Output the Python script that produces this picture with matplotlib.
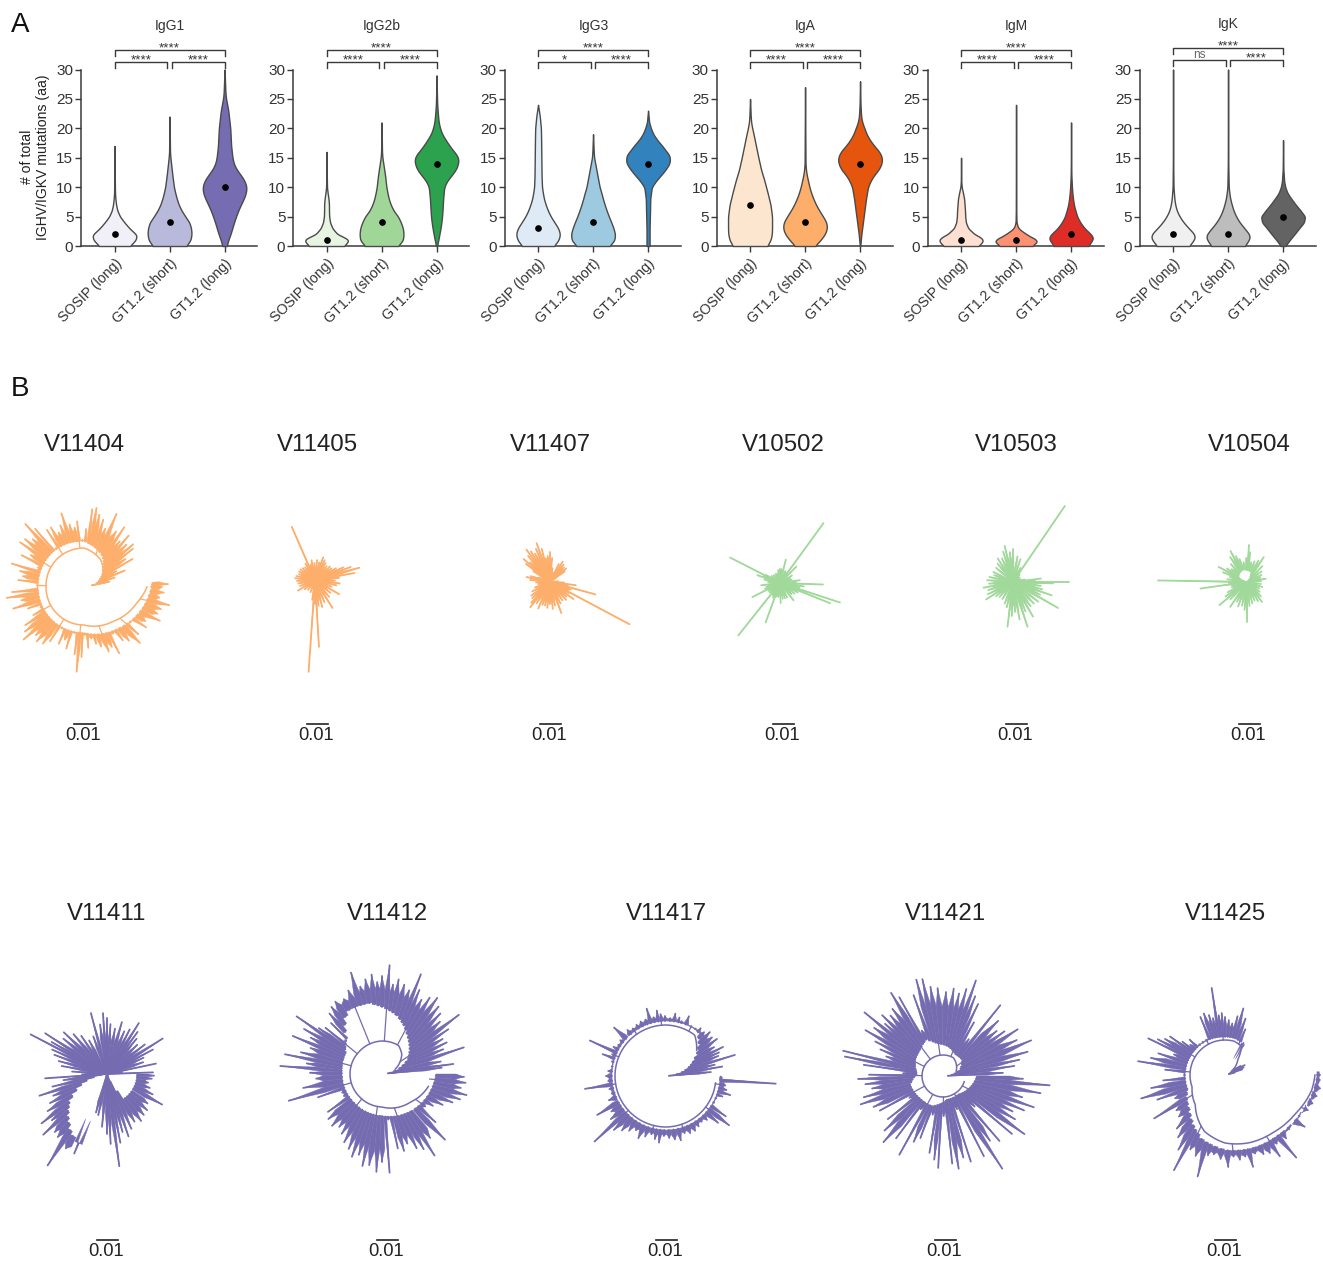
#!python3

import numpy as np
import matplotlib
matplotlib.use('Agg')
import matplotlib.pyplot as plt
from matplotlib.collections import PolyCollection
from matplotlib.transforms import ScaledTranslation

plt.rcParams['font.family'] = ['Liberation Sans', 'DejaVu Sans']

W, H = 1323, 1261
DARK = '#3a3a3a'

groups = ['SOSIP (long)', 'GT1.2 (short)', 'GT1.2 (long)']
isotypes = ['IgG1', 'IgG2b', 'IgG3', 'IgA', 'IgM', 'IgK']
spine_px = [81, 293, 504.5, 716.5, 927.5, 1139.5]
medians = [[2, 4, 10], [1, 4, 14], [3, 4, 14], [7, 4, 14], [1, 1, 2], [2, 2, 5]]
sig_left = ['****', '****', '*', '****', '****', 'ns']
sig_right = ['****'] * 6
sig_top = ['****'] * 6
colors = [['#f1eff7', '#b9b9dc', '#756cb1'],
          ['#e6f4e1', '#a0d798', '#2ca24f'],
          ['#deebf7', '#9ecae1', '#3182bd'],
          ['#fde6cf', '#fdae6b', '#e6550d'],
          ['#fee0d2', '#fc9272', '#de2d26'],
          ['#f0f0f0', '#bdbdbd', '#636363']]

# violin outlines: (mutations, relative half width)
g1_a = [(0, .7), (1, .95), (1.6, 1), (2, .97), (3, .68), (4, .45), (5, .25), (6, .13), (7, .07), (8, .04), (9, .02), (12, .01), (17, 0)]
g1_b = [(0, .76), (1, .95), (2, 1), (3, .98), (4, .9), (5, .72), (6, .55), (7, .42), (8, .33), (9, .26), (10, .2), (12, .13), (14, .07), (15, .04), (16, .02), (22, 0)]
g1_c = [(0, .1), (1, .17), (2, .27), (3, .35), (4, .43), (5, .52), (6, .62), (7, .74), (8, .87), (9, .97), (10, 1), (11, .92), (12, .75), (13, .55), (14, .42), (15, .36), (17, .3), (20, .26), (23, .17), (25, .07), (26, .04), (28, .02), (30, 0)]
g2_a = [(0, .79), (.5, .92), (1, 1), (1.5, .8), (2, .5), (3, .27), (4, .16), (5, .12), (6, .11), (7, .11), (8, .09), (9, .05), (10, .02), (12, .01), (16, 0)]
g2_b = [(0, .75), (1, .97), (2, 1), (3, .97), (4, .88), (5, .75), (6, .55), (7, .42), (8, .33), (9, .27), (10, .22), (12, .16), (14, .08), (15, .04), (16, .02), (21, 0)]
g2_c = [(0, .02), (1, .08), (2, .13), (3, .18), (4, .22), (5, .25), (6, .27), (8, .3), (10, .35), (11, .47), (12, .68), (13, .88), (14, .98), (14.7, 1), (15.5, .92), (16, .8), (17, .6), (18, .42), (19, .26), (20, .16), (21, .1), (22, .07), (24, .03), (26, .015), (29, 0)]
g3_a = [(0, .72), (1, .93), (2, 1), (3, .92), (4, .75), (5, .58), (6, .45), (7, .35), (8, .27), (9, .22), (10, .18), (12, .16), (15, .15), (18, .14), (20, .13), (22, .08), (23, .04), (24, 0)]
g3_b = [(0, .75), (1, .97), (2, 1), (3, .93), (4, .83), (5, .72), (6, .62), (7, .53), (8, .45), (9, .38), (10, .3), (12, .2), (14, .1), (15, .05), (16, .03), (19, 0)]
g3_c = [(0, .07), (3, .07), (6, .09), (8, .1), (10, .17), (11, .35), (12, .58), (13, .8), (14, .97), (14.7, 1), (15.5, .96), (16, .85), (17, .65), (18, .42), (19, .24), (20, .13), (21, .05), (23, 0)]
a_a = [(0, .78), (1, .93), (2, .99), (3, 1), (5, 1), (7, .93), (9, .8), (11, .66), (13, .5), (15, .38), (17, .27), (19, .16), (20, .1), (21, .05), (22, .03), (25, 0)]
a_b = [(0, .45), (1, .7), (2, .9), (3, 1), (4, .97), (5, .82), (6, .65), (7, .5), (8, .38), (9, .28), (10, .2), (11, .14), (12, .08), (13, .04), (14, .02), (27, 0)]
a_c = [(0, .01), (2, .06), (4, .13), (6, .2), (8, .27), (10, .36), (11, .47), (12, .63), (13, .85), (14, .98), (15, 1), (16, .88), (17, .65), (18, .45), (19, .3), (20, .2), (21, .1), (22, .05), (24, .02), (28, 0)]
m_a = [(0, .78), (.5, .93), (1, 1), (1.5, .88), (2, .62), (3, .33), (4, .22), (5, .19), (6, .18), (7, .16), (8, .14), (9, .09), (10, .03), (11, .01), (15, 0)]
m_b = [(0, .72), (.5, .9), (1, 1), (1.3, .8), (2, .47), (3, .1), (4, .02), (6, .01), (24, 0)]
m_c = [(0, .78), (1, .97), (1.5, 1), (2, .9), (3, .62), (4, .42), (5, .28), (6, .2), (7, .13), (8, .09), (9, .06), (10, .04), (12, .015), (14, .008), (21, 0)]
k_a = [(0, .72), (1, .95), (1.7, 1), (2, .97), (3, .72), (4, .48), (5, .3), (6, .17), (7, .1), (8, .06), (10, .02), (14, .008), (30, 0)]
k_b = [(0, .75), (1, .95), (1.7, 1), (2, .96), (3, .75), (4, .53), (5, .37), (6, .25), (7, .17), (8, .1), (9, .06), (10, .03), (14, .01), (30, 0)]
k_c = [(0, .1), (1, .3), (2, .52), (3, .73), (4, .95), (5, 1), (6, .8), (7, .58), (8, .38), (9, .2), (10, .1), (11, .05), (13, .015), (18, 0)]
violins = [[g1_a, g1_b, g1_c], [g2_a, g2_b, g2_c], [g3_a, g3_b, g3_c],
           [a_a, a_b, a_c], [m_a, m_b, m_c], [k_a, k_b, k_c]]

# trees: base = inner edge of the bushes, ring = backbone line, tips = (angle deg, length px)
t1_base = [(8, 3), (15, 12), (40, 25), (59, 36), (90, 46), (130, 47), (180, 46), (225, 46), (270, 46), (310, 54), (343, 63), (362, 68)]
t1_ring = [(40, 25), (59, 32), (90, 39), (130, 39), (180, 38), (225, 38), (270, 38), (310, 45), (343, 55), (360, 63)]
t1_tips = [(12, 26), (17, 32), (22, 44), (26, 36), (30, 56), (34, 50), (38, 62), (41, 65), (45, 60), (49, 68), (52, 58), (56, 72), (60, 64), (66, 80), (70, 62), (74, 70), (78, 74), (81, 80), (84, 78), (88, 58), (92, 47), (96, 66), (99, 60), (103, 64), (107, 77), (111, 66), (115, 60), (119, 68), (123, 68), (126, 48), (130, 76), (133, 86), (137, 70), (141, 76), (145, 78), (149, 62), (153, 70), (157, 50), (162, 76), (166, 66), (170, 62), (174, 66), (178, 47), (184, 72), (188, 78), (192, 64), (197, 74), (201, 60), (205, 48), (209, 58), (213, 70), (217, 74), (221, 80), (225, 68), (229, 72), (234, 70), (238, 64), (242, 47), (246, 62), (250, 56), (254, 64), (258, 47), (262, 68), (265, 85), (268, 70), (271, 48), (274, 61), (278, 52), (282, 58), (286, 62), (291, 69), (295, 66), (298, 75), (302, 55), (306, 66), (310, 70), (315, 79), (319, 72), (323, 58), (327, 74), (331, 70), (336, 83), (340, 78), (344, 80), (348, 87), (352, 76), (356, 80), (360, 78), (362, 84)]
t2_tips = [(5, 24), (10, 40), (15.5, 46), (20, 38), (24, 31), (29, 24), (35, 20), (42, 20), (50, 18), (58, 20), (64, 22), (70, 24), (76, 18), (84, 20), (92, 17), (100, 20), (106, 16), (113.6, 58), (120, 19), (128, 16), (136, 17), (144, 18), (152, 18), (160, 17), (168, 19), (175, 20), (183, 18), (192, 17), (202, 16), (212, 20), (222, 14), (235, 12), (250, 13), (262, 20), (266, 92), (270, 24), (273.4, 67), (278, 26), (285, 28), (293, 24), (302, 33), (310, 22), (320, 20), (329.5, 28), (338, 18), (346, 22), (352, 25), (358, 20), (365, 22)]
t3_tips = [(36, 18), (40, 21), (46, 20), (52, 22), (58, 24), (64, 20), (72, 10), (80, 14), (85, 24), (90, 30), (95, 26), (100, 24), (104, 34), (109, 41), (113, 36), (118, 32), (122, 36), (126, 40), (130, 34), (135, 28), (139, 35), (143, 30), (147, 20), (152, 8), (158, 12), (163, 20), (168, 24), (174, 20), (182, 14), (190, 12), (200, 16), (208, 20), (216, 23), (222, 24), (228, 28), (232, 32), (238, 25), (246, 29), (252, 24), (258, 24), (264, 26), (270, 22), (276, 27), (282, 24), (290, 33), (296, 24), (304, 22), (312, 24), (318, 22), (324, 29), (330, 22), (332, 90), (336, 20), (340, 22), (344.7, 47), (349, 18), (353, 26), (358, 14), (365, 8)]
t4_tips = [(8, 20), (16, 12), (24, 11), (32, 14), (45, 23), (50, 10), (54, 74), (58, 12), (66, 13), (76, 24), (84, 14), (90, 14), (98, 13), (106, 10), (116, 10), (128, 10), (140, 11), (150, 16), (153, 56), (156, 18), (161, 24), (168, 16), (176, 12), (187, 19), (195, 14), (201, 16), (207, 31), (215, 14), (223, 14), (231.5, 67), (238, 14), (244, 16), (250, 42), (256, 14), (264, 14), (272, 20), (280, 16), (288, 16), (296, 16), (308, 22), (316, 16), (324, 18), (332, 20), (338, 54), (342, 63), (347, 20), (352, 24), (358, 43), (364, 16)]
t5_tips = [(0, 56), (4, 22), (7, 28), (12, 12), (20, 8), (35, 8), (48, 10), (55.7, 92), (62, 16), (72, 24), (80, 26), (90, 33), (96, 30), (103, 37), (108, 32), (115, 26), (123, 28), (130, 24), (140, 22), (153, 22), (160, 20), (168, 24), (176, 26), (184, 24), (191, 30), (198, 26), (206, 28), (213, 32), (220, 22), (228, 20), (238, 20), (249, 23), (256, 26), (263, 45), (268, 34), (274, 30), (280, 38), (288, 47), (293, 32), (300, 40), (306, 30), (314, 30), (322, 32), (330, 52), (335, 30), (341, 41), (346, 30), (352, 28), (358, 40)]
t6_base = [(0, 0), (40, 0), (70, 11), (110, 13), (150, 10), (170, 0), (360, 0)]
t6_tips = [(4, 14), (10, 19), (18, 14), (26, 16), (36, 18), (46, 22), (56, 30), (62, 24), (70, 22), (78, 20), (84, 30), (87, 37), (92, 24), (100, 20), (108, 24), (113, 28), (118, 35), (124, 30), (132, 24), (140, 20), (146, 24), (152, 32), (158, 26), (164, 18), (172, 20), (179, 89), (184, 18), (188, 47), (193, 16), (200, 16), (208, 22), (214, 26), (220, 36), (226, 24), (236, 30), (243, 22), (250, 26), (258, 24), (265, 28), (270, 40), (276, 24), (284, 22), (292, 20), (300, 22), (307, 25), (314, 20), (322, 16), (332, 14), (342, 16), (352, 14)]
t7_base = [(0, 0), (185, 0), (200, 25), (215, 45), (230, 60), (240, 70), (248, 75), (249, 0), (290, 0), (305, 30), (340, 30), (358, 30), (360, 0)]
t7_tips = [(2, 46), (6, 15), (12, 50), (18, 38), (24, 40), (28, 52), (32.5, 66), (38, 48), (44, 42), (50, 46), (54, 52), (58, 60), (63, 50), (68, 46), (74, 54), (80, 46), (86, 50), (90, 56), (93.8, 61), (98, 50), (104.8, 63), (110, 40), (118, 38), (124, 46), (130, 52), (136, 60), (141, 56), (146.6, 74), (150, 64), (152.6, 86), (156, 60), (160, 56), (165, 50), (170, 46), (176, 35), (181, 25), (184, 62), (188, 44), (193, 56), (197.8, 71), (202, 58), (207, 64), (212, 70), (217, 82), (220, 72), (223.6, 88), (228, 78), (232, 80), (237, 109), (241, 85), (247.6, 86), (254, 40), (258, 42), (264.6, 53), (270, 60), (273, 70), (277.6, 93), (281, 70), (285, 60), (289, 66), (294, 60), (300, 55), (306, 58), (312, 55), (318, 54), (324, 50), (331, 63), (336, 50), (342, 45), (348, 42), (354, 45), (358, 47)]
t8_base = [(5, 5), (30, 30), (55, 45), (75, 60), (100, 72), (120, 72), (135, 50), (150, 42), (180, 40), (225, 40), (270, 42), (315, 48), (360, 54)]
t8_ring = [(20, 14), (45, 28), (60, 33), (90, 33), (135, 32), (180, 32), (225, 32), (270, 33), (315, 40), (345, 48)]
t8_tips = [(6, 60), (8, 72), (12, 60), (18, 86), (22, 66), (26, 72), (30, 70), (34, 80), (37.6, 97), (42, 78), (46, 84), (50, 88), (54, 94), (58, 90), (62, 84), (66, 92), (68.7, 107), (72, 88), (76, 92), (80, 96), (83, 90), (86, 109), (90, 98), (93, 92), (96, 100), (100, 96), (104, 90), (107, 106), (112, 90), (117, 84), (122.8, 86), (127, 84), (131, 80), (135, 72), (137.5, 50), (140.7, 73), (144, 78), (146, 103), (150, 90), (153, 80), (156.9, 97), (160, 76), (165, 84), (168.5, 99), (172, 76), (175.5, 102), (179, 72), (184, 66), (190, 80), (196, 97), (200, 68), (205, 44), (210, 44), (215, 66), (220, 70), (226, 72), (231, 68), (236, 72), (241, 78), (246, 82), (250, 88), (254, 84), (258, 94), (262, 92), (266.7, 98), (270, 88), (274.4, 99), (278, 46), (282, 76), (286, 80), (290, 74), (295, 82), (299, 86), (302.8, 97), (307, 80), (313.8, 91), (318, 72), (323, 54), (328, 60), (333, 68), (338, 76), (342, 82), (346, 87), (350, 80), (354, 84), (358, 82)]
t9_base = [(5, 3), (12, 15), (25, 28), (40, 42), (55, 55), (90, 55), (180, 54), (270, 54), (355, 54), (360, 54)]
t9_ring = [(40, 40), (55, 50), (90, 51), (180, 51), (270, 51), (352, 50)]
t9_tips = [(5, 45), (9.5, 57), (13, 50), (17, 72), (21, 56), (24, 58), (27, 64), (31, 56), (36, 63), (40, 60), (45, 62), (49, 58), (54, 59), (58, 55), (63, 56), (69, 64), (74, 57), (77, 60), (81.5, 63), (86, 58), (91, 60), (95, 62), (98, 66), (102, 60), (106, 70), (110, 60), (115, 60), (120, 59), (125, 58), (130, 60), (137, 71), (142, 58), (147, 57), (151, 60), (155, 84), (158, 58), (161, 67), (165, 56), (170, 55), (175, 58), (180, 60), (185, 58), (189, 82), (193, 58), (198, 57), (203, 62), (209.5, 79), (213, 65), (218, 70), (222.5, 97), (226, 75), (231, 70), (236, 66), (241, 62), (246, 68), (251, 64), (256, 60), (260, 64), (264, 67), (268, 60), (273, 62), (278, 64), (283, 66), (288, 60), (293, 62), (298, 62), (303, 60), (308, 58), (313, 60), (318, 70), (322, 80), (326, 72), (331, 55), (336, 54), (340, 60), (343.5, 67), (347, 62), (351, 60), (356, 110), (358, 56)]
t10_base = [(3, 5), (20, 18), (40, 25), (60, 25), (80, 30), (100, 33), (115, 40), (130, 35), (150, 32), (175, 26), (195, 34), (225, 32), (250, 32), (280, 24), (310, 24), (340, 30), (360, 34)]
t10_ring = [(20, 14), (60, 21), (135, 21), (225, 21), (300, 21), (345, 22)]
t10_tips = [(3, 60), (8, 72), (12, 78), (16, 88), (22, 95), (26, 82), (32, 88), (36, 76), (40, 70), (45, 78), (51, 91), (55, 45), (60, 62), (64, 80), (68, 86), (71, 101), (75, 90), (79, 84), (83, 88), (88, 84), (93.5, 88), (98, 90), (102, 99), (105.5, 100), (110, 86), (115, 50), (119, 90), (122, 98), (127, 84), (131, 80), (135, 86), (138, 78), (141, 101), (145, 84), (149.4, 90), (153, 76), (157, 68), (161, 60), (165.8, 103), (168.8, 100), (172, 80), (176, 40), (179, 74), (182, 85), (186, 78), (190, 72), (195, 82), (199, 87), (204, 76), (208.7, 72), (213, 40), (218, 70), (223, 80), (228, 89), (233, 78), (236, 40), (241, 90), (246, 72), (250, 66), (255, 40), (260, 78), (264, 84), (267, 92), (271, 40), (276, 88), (279.6, 94), (284, 84), (288, 90), (293, 36), (297, 90), (302.6, 110), (306, 80), (311, 86), (316, 44), (320, 90), (324.5, 100), (329, 84), (333, 78), (337, 88), (341, 96), (345, 82), (350, 99), (355, 107), (358, 80)]
t11_base = [(10, 3), (30, 8), (50, 20), (60, 36), (75, 38), (180, 40), (200, 40), (225, 50), (250, 68), (270, 75), (290, 78), (310, 80), (330, 84), (350, 90), (360, 92)]
t11_ring = [(30, 8), (50, 20), (60, 33), (75, 35), (180, 35), (200, 35), (225, 42), (250, 60), (270, 68), (290, 72), (310, 75), (330, 80), (350, 88), (360, 90)]
t11_tips = [(14, 10), (18, 18), (22, 20), (26.6, 22), (30, 18), (34, 12), (60, 36), (66, 50), (70, 60), (74.6, 69), (78, 60), (82, 52), (86, 55), (90, 58), (93, 62), (96, 60), (98.7, 88), (102, 58), (105, 62), (109, 65), (113, 63), (118, 40), (124, 36), (130, 40), (135, 50), (139, 46), (142, 54), (145, 67), (149, 70), (152, 76), (154.5, 85), (158, 55), (162, 70), (167, 76), (171, 88), (175, 60), (180, 38), (185, 62), (190, 75), (195.6, 87), (200, 72), (205, 55), (211.5, 83), (216, 60), (222, 62), (228, 72), (233, 78), (238, 88), (241.8, 108), (245, 82), (250, 86), (254.9, 105), (258, 82), (262, 80), (267, 84), (272, 92), (276, 82), (280, 86), (284, 84), (287, 96), (291, 84), (296, 88), (300, 90), (304, 98), (307, 86), (310.8, 109), (314, 88), (320, 84), (327, 95), (331, 84), (337, 90), (342, 92), (347, 94), (352, 96), (357, 95), (360, 95)]
star_base = [(0, 0), (370, 0)]

ORANGE, GREEN, PURPLE = '#fdae6b', '#a1d99b', '#756bb1'
top_names = ['V11404', 'V11405', 'V11407', 'V10502', 'V10503', 'V10504']
top_colors = [ORANGE, ORANGE, ORANGE, GREEN, GREEN, GREEN]
top_tips = [t1_tips, t2_tips, t3_tips, t4_tips, t5_tips, t6_tips]
top_bases = [t1_base, star_base, star_base, star_base, star_base, t6_base]
top_rings = [t1_ring, None, None, None, None, None]
top_label_x = [84, 317, 550, 783, 1016, 1249]
top_centers = [(84, 587), (315, 580), (550, 582), (780, 583), (1013, 582), (1247, 582)]

bottom_names = ['V11411', 'V11412', 'V11417', 'V11421', 'V11425']
bottom_tips = [t7_tips, t8_tips, t9_tips, t10_tips, t11_tips]
bottom_bases = [t7_base, t8_base, t9_base, t10_base, t11_base]
bottom_rings = [None, t8_ring, t9_ring, t10_ring, t11_ring]
bottom_label_x = [107, 387, 666, 945, 1225]
bottom_centers = [(107, 1074), (382, 1074), (666, 1076), (943, 1076), (1225, 1075)]


def violin(ax, pos, outline, color, med):
  ys = np.array([p[0] for p in outline], dtype=float)
  ws = np.array([p[1] for p in outline], dtype=float)
  yy = np.linspace(ys[0], ys[-1], 300)
  ww = np.interp(yy, ys, ws)
  k = 5
  ww = np.convolve(np.pad(ww, k, mode='edge'), np.ones(2 * k + 1) / (2 * k + 1), mode='valid')
  ww[-1] = 0
  ax.fill_betweenx(yy, pos - 0.4 * ww, pos + 0.4 * ww, facecolor=color, edgecolor='#4a4a4a', lw=1.0, clip_on=False, zorder=3)
  ax.plot([pos], [med], 'o', color='black', markersize=3.8, zorder=5, clip_on=False)


def brackets(ax, i, shift):
  tr = ax.get_xaxis_transform()
  def fr(px):
    return (246 - px + shift) / 176.5
  ax.plot([0, 0, 2, 2], [fr(56), fr(50), fr(50), fr(56)], color=DARK, lw=1, transform=tr, clip_on=False)
  ax.plot([0, 0, 0.96, 0.96], [fr(67.5), fr(62), fr(62), fr(67.5)], color=DARK, lw=1, transform=tr, clip_on=False)
  ax.plot([1.04, 1.04, 2, 2], [fr(67.5), fr(62), fr(62), fr(67.5)], color=DARK, lw=1, transform=tr, clip_on=False)
  star = dict(transform=tr, ha='center', color='#333333', clip_on=False, va='bottom')
  ax.text(1, fr(54.5), sig_top[i], fontsize=9.7, **star)
  ax.text(1.52, fr(66.5), sig_right[i], fontsize=9.7, **star)
  if sig_left[i] == 'ns':
    ax.text(0.48, fr(63), sig_left[i], fontsize=8.5, color='#666666', transform=tr, ha='center', va='bottom', clip_on=False)
  else:
    ax.text(0.48, fr(66.5), sig_left[i], fontsize=9.7, **star)


def tree(ax, center, tips, base, ring, color):
  cx, cy = center
  ang = np.array([t[0] for t in tips], dtype=float)
  rad = np.array([t[1] for t in tips], dtype=float)
  r0 = np.interp(ang, [b[0] for b in base], [b[1] for b in base])
  rad = np.maximum(rad, r0 + 1)

  def xy(a, r):
    return (cx + r * np.cos(np.radians(a)), cy - r * np.sin(np.radians(a)))

  polys = []
  for i in range(len(ang)):
    lo = ang[i] - min((ang[i] - ang[i - 1]) * 0.5 if i > 0 else 2, 3)
    hi = ang[i] + min((ang[i + 1] - ang[i]) * 0.5 if i < len(ang) - 1 else 2, 3)
    nb = min(rad[max(i - 1, 0)], rad[min(i + 1, len(ang) - 1)], rad[i])
    shoulder = r0[i] + 0.72 * (nb - r0[i])
    polys.append([xy(lo, r0[i]), xy(lo, shoulder), xy(ang[i], rad[i]), xy(hi, shoulder), xy(hi, r0[i])])
  ax.add_collection(PolyCollection(polys, facecolors=color, edgecolors=color, linewidths=0.3))
  for a, r, b in zip(ang, rad, r0):
    x0, y0 = xy(a, b)
    x1, y1 = xy(a, r)
    ax.plot([x0, x1], [y0, y1], color=color, lw=1.3, solid_capstyle='round')
  if ring is not None:
    aa = np.linspace(ring[0][0], ring[-1][0], 200)
    rr = np.interp(aa, [p[0] for p in ring], [p[1] for p in ring])
    px, py = xy(aa, rr)
    ax.plot(px, py, color=color, lw=1.1)
    # short stems joining the bushes to the backbone
    ring_at = np.interp(ang, [p[0] for p in ring], [p[1] for p in ring])
    for a, b, q in list(zip(ang, r0, ring_at))[::7]:
      x0, y0 = xy(a, q)
      x1, y1 = xy(a, b)
      ax.plot([x0, x1], [y0, y1], color=color, lw=0.9)


def main():
  fig = plt.figure(figsize=(W / 100, H / 100), dpi=100)
  page = fig.add_axes([0, 0, 1, 1])
  page.set_xlim(0, W)
  page.set_ylim(H, 0)
  page.axis('off')

  for i, name in enumerate(isotypes):
    ax = fig.add_axes([spine_px[i] / W, 1 - 246 / H, 176 / W, 176.5 / H])
    ax.patch.set_alpha(0)
    for j in range(3):
      violin(ax, j, violins[i][j], colors[i][j], medians[i][j])
    ax.set_xlim(-0.61, 2.59)
    ax.set_ylim(0, 30)
    ax.set_yticks(range(0, 31, 5))
    ax.set_xticks(range(3))
    ax.set_xticklabels(groups, rotation=45, ha='right', rotation_mode='anchor', fontsize=10.2, color='#333333')
    offset = ScaledTranslation(6 / 100, 0, fig.dpi_scale_trans)
    for lab in ax.get_xticklabels():
      lab.set_transform(lab.get_transform() + offset)
    ax.tick_params(axis='y', length=4.5, width=1, color=DARK, labelsize=11, labelcolor='#333333', pad=1)
    ax.tick_params(axis='x', length=4.5, width=1, color=DARK, pad=3)
    for s in ['top', 'right']:
      ax.spines[s].set_visible(False)
    for s in ['left', 'bottom']:
      ax.spines[s].set_color(DARK)
      ax.spines[s].set_linewidth(1.1)
    shift = 2 if name == 'IgK' else 0
    brackets(ax, i, shift)
    title_x = spine_px[i] + 34 + 55
    page.text(title_x, 26 - shift, name, fontsize=10, ha='center', va='center', color='#333333')

  page.text(35, 157, '# of total\nIGHV/IGKV mutations (aa)', rotation=90, fontsize=10.1,
            ha='center', va='center', linespacing=1.2, color='#222222')
  page.text(11, 32, 'A', fontsize=20, ha='left', va='baseline', color='#111111')
  page.text(11, 396, 'B', fontsize=20, ha='left', va='baseline', color='#111111')

  for i, name in enumerate(top_names):
    tree(page, top_centers[i], top_tips[i], top_bases[i], top_rings[i], top_colors[i])
    x = top_label_x[i]
    page.text(x, 445, name, fontsize=17.3, ha='center', va='center', color='#222222')
    page.plot([x - 10.5, x + 10.5], [724, 724], color='#222222', lw=1.2)
    page.text(x - 0.5, 736, '0.01', fontsize=13.2, ha='center', va='center', color='#222222')

  for i, name in enumerate(bottom_names):
    tree(page, bottom_centers[i], bottom_tips[i], bottom_bases[i], bottom_rings[i], PURPLE)
    x = bottom_label_x[i]
    page.text(x, 914, name, fontsize=17.3, ha='center', va='center', color='#222222')
    page.plot([x - 10.5, x + 10.5], [1240, 1240], color='#222222', lw=1.2)
    page.text(x - 0.5, 1252, '0.01', fontsize=13.2, ha='center', va='center', color='#222222')

  page.set_xlim(0, W)
  page.set_ylim(H, 0)
  fig.savefig('out.png', dpi=100)


if __name__ == "__main__":
  main()
